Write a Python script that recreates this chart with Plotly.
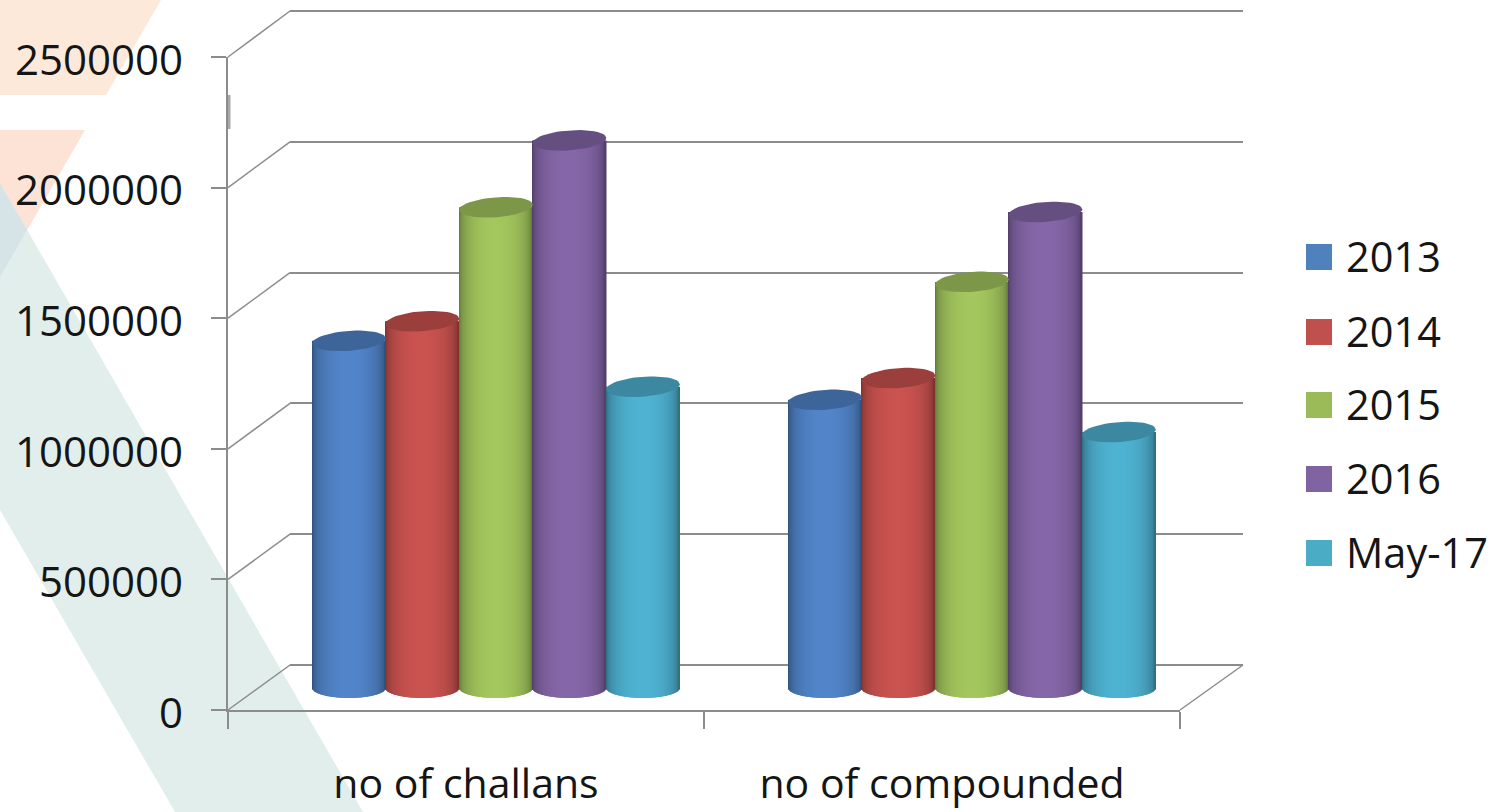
import math
import plotly.graph_objects as go

categories = ["no of challans", "no of compounded"]
series_names = ["2013", "2014", "2015", "2016", "May-17"]
values_2013 = [1325000, 1100000]
values_2014 = [1400000, 1183000]
values_2015 = [1835000, 1550000]
values_2016 = [2090000, 1817000]
values_may17 = [1150000, 977000]
series_values = [values_2013, values_2014, values_2015, values_2016, values_may17]
peak_colors = [(82, 133, 202), (203, 83, 80), (164, 199, 94), (134, 103, 169), (79, 179, 211)]
legend_colors = ["#4F81BD", "#C0504D", "#9BBB59", "#8064A2", "#4BACC6"]
y_ticks = [0, 500000, 1000000, 1500000, 2000000, 2500000]

W, H = 1497, 812
GRAY = "#8c8c8c"
FONT = "Open Sans"
TEXT = "#151515"
PX_PER_VAL = 131 / 500000
PX_PER_CAT = 476
BAR_PX = 73.5
CAP_A, CAP_B = BAR_PX / 2, 10
N_STRIPS = 73

def fx(px):
    return px / W

def fy(py):
    return 1 - py / H

def rgb(c, f):
    return "rgb(%d,%d,%d)" % tuple(min(255, int(v * f)) for v in c)

fig = go.Figure()

# invisible carriers so the front axis, back wall and label axis exist
fig.add_trace(go.Bar(x=categories, y=[0, 0], xaxis="x", yaxis="y", opacity=0, showlegend=False, hoverinfo="skip"))
fig.add_trace(go.Scatter(x=[0, 1], y=[0, 0], xaxis="x2", yaxis="y2", mode="lines", line=dict(width=0),
                         showlegend=False, hoverinfo="skip"))
fig.add_trace(go.Bar(x=categories, y=[0, 0], xaxis="x", yaxis="y4", opacity=0, showlegend=False, hoverinfo="skip"))

bar_w = BAR_PX / PX_PER_CAT
dy_b = CAP_B / PX_PER_VAL
for si, (name, vals, col) in enumerate(zip(series_names, series_values, peak_colors)):
    xs, ys, bases, widths, colors = [], [], [], [], []
    for g, v in enumerate(vals):
        center = g + (si - 2) * bar_w
        for k in range(N_STRIPS):
            u = -1 + (2 * k + 1) / N_STRIPS
            root = math.sqrt(max(0.0, 1 - u * u))
            xs.append(center + u * bar_w / 2)
            base = -dy_b * root
            bases.append(base)
            ys.append(v - base)
            widths.append(bar_w / N_STRIPS * 1.5)
            colors.append(rgb(col, 0.5 + 0.5 * root ** 0.75))
    fig.add_trace(go.Bar(x=xs, y=ys, base=bases, width=widths, name=name, xaxis="x3", yaxis="y3",
                         marker=dict(color=colors, line=dict(width=0), opacity=1), showlegend=False,
                         hoverinfo="skip"))
    # elliptical top caps, sheared so they rise slightly to the right
    for g, v in enumerate(vals):
        center = g + (si - 2) * bar_w
        ex, ey = [], []
        for d in range(0, 361, 8):
            t = math.radians(d)
            px_x = CAP_A * math.cos(t)
            px_y = CAP_B * math.sin(t) + 0.07 * px_x
            ex.append(center + px_x / PX_PER_CAT)
            ey.append(v + px_y / PX_PER_VAL)
        fig.add_trace(go.Scatter(x=ex, y=ey, xaxis="x3", yaxis="y3", mode="lines", fill="toself",
                                 line=dict(width=0), fillcolor=rgb(col, 0.76), showlegend=False,
                                 hoverinfo="skip"))

shapes = []

def poly(points, color):
    path = "M " + " L ".join("%.5f,%.5f" % (fx(x), fy(y)) for x, y in points) + " Z"
    shapes.append(dict(type="path", xref="paper", yref="paper", path=path, fillcolor=color,
                       line=dict(width=0), layer="below"))

def seg(x0, y0, x1, y1, width=1.5):
    shapes.append(dict(type="line", xref="paper", yref="paper", x0=fx(x0), y0=fy(y0), x1=fx(x1), y1=fy(y1),
                       line=dict(color=GRAY, width=width), layer="below"))

# slide background decoration
poly([(0, 0), (161, 0), (106, 95), (0, 95)], "#FDE9DA")
poly([(0, 130), (85, 130), (0, 277)], "#FDE3D6")
poly([(0, 183), (363, 812), (175, 812), (0, 510)], "#E1EEEB")
poly([(0, 183), (27, 230), (0, 277)], "#D6E4E8")

# walls: left-side diagonals and floor edge
for v in y_ticks:
    seg(228, 710 - v * 653 / 2500000, 290, 665 - v * 654 / 2500000)
seg(1180, 710, 1243, 665)
shapes.append(dict(type="line", xref="paper", yref="paper", x0=fx(228.5), y0=fy(95), x1=fx(228.5), y1=fy(129),
                   line=dict(color="#a8a8a8", width=4), layer="below"))

# legend
legend_y = [257, 332, 405, 479, 553]
annotations = []
for name, color, ly in zip(series_names, legend_colors, legend_y):
    shapes.append(dict(type="rect", xref="paper", yref="paper", x0=fx(1306), x1=fx(1332), y0=fy(ly + 13), y1=fy(ly - 13),
                       fillcolor=color, line=dict(width=0)))
    annotations.append(dict(text=name, xref="paper", yref="paper", x=fx(1344), y=fy(ly - 1), xanchor="left",
                            yanchor="middle", showarrow=False, font=dict(family=FONT, size=41.5, color=TEXT)))

PAD = 25000
pad_px = PAD * 654 / 2500000

fig.update_layout(
    width=W, height=H, margin=dict(l=0, r=0, t=0, b=0), autosize=False, template="none",
    paper_bgcolor="white", plot_bgcolor="rgba(0,0,0,0)", barmode="overlay", showlegend=False,
    shapes=shapes, annotations=annotations,
    xaxis=dict(domain=[fx(228), fx(1180)], type="category", categoryorder="array", categoryarray=categories,
               range=[-0.5, 1.5], tickson="boundaries", ticks="outside", ticklen=17, tickcolor=GRAY, tickwidth=1.5,
               showline=True, linecolor=GRAY, linewidth=1.5, showgrid=False, ticklabelstandoff=37,
               tickfont=dict(family=FONT, size=41, color=TEXT), anchor="y", fixedrange=True, automargin=False),
    yaxis=dict(domain=[fy(710), fy(57)], range=[0, 2500000], tickmode="array", tickvals=y_ticks,
               ticks="outside", ticklen=15, tickcolor=GRAY, tickwidth=1.5, showticklabels=False,
               showline=True, linecolor=GRAY, linewidth=1.5, showgrid=False, zeroline=False,
               anchor="x", fixedrange=True, automargin=False),
    yaxis4=dict(domain=[fy(713), fy(60)], range=[0, 2500000], tickmode="array", tickvals=y_ticks,
                ticktext=[str(v) for v in y_ticks], ticks="", showline=False, showgrid=False, zeroline=False,
                ticklabelstandoff=44, tickfont=dict(family=FONT, size=42, color=TEXT),
                anchor="x", fixedrange=True, automargin=False),
    xaxis2=dict(domain=[fx(290), fx(1243)], range=[0, 1], visible=False, anchor="y2", fixedrange=True),
    yaxis2=dict(domain=[fy(665 + pad_px), fy(11 - pad_px)], range=[-PAD, 2500000 + PAD], tickmode="array",
                tickvals=y_ticks, showgrid=True, gridcolor=GRAY, gridwidth=1.5, showticklabels=False, ticks="",
                showline=False, zeroline=False, anchor="x2", fixedrange=True, automargin=False),
    xaxis3=dict(domain=[0, 1], range=[-496 / PX_PER_CAT, (W - 496) / PX_PER_CAT], visible=False, anchor="y3",
                fixedrange=True),
    yaxis3=dict(domain=[0, 1], range=[(688 - H) / PX_PER_VAL, 688 / PX_PER_VAL], visible=False, anchor="x3",
                fixedrange=True),
)

fig.write_html("out.html", config={"displayModeBar": False},
               post_script="document.body.style.margin='0';document.body.style.overflow='hidden';")
